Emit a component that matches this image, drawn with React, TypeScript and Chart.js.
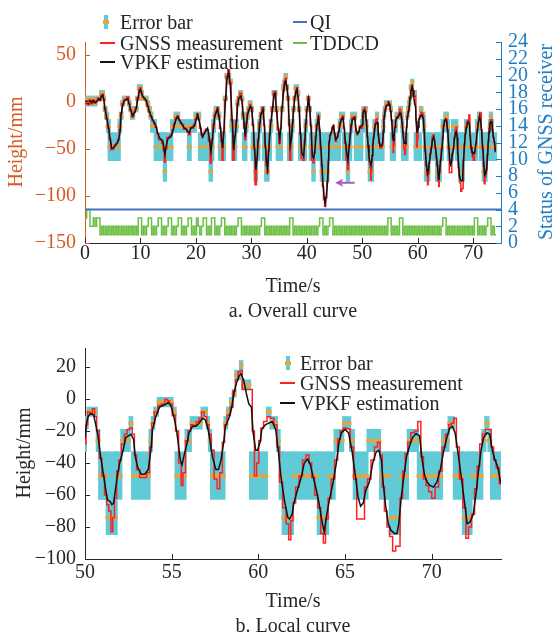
import React, { useEffect, useRef } from 'react';
import { Chart, registerables } from 'chart.js';

Chart.register(...registerables);

const FONT = "'Liberation Serif', 'Times New Roman', serif";
const DARK = '#262626';
const LEFT_AX = '#D75A25';
const RIGHT_AX = '#1F7DC2';
const CYAN = '#60CAD6';
const ORANGE = '#EAA33A';
const RED = '#FF2020';
const BLACK = '#111111';
const QI_BLUE = '#4472C4';
const GREEN = '#6CBF45';
const PURPLE = '#A35BB5';

// ---------------- data ----------------
const time = [
  0, 0.3, 0.6, 0.9, 1.2, 1.5, 1.8, 2.1, 2.4, 2.7,
  3.0, 3.2, 3.4, 3.6, 3.9, 4.2, 4.5, 4.8, 5.1, 5.4,
  5.7, 6.0, 6.3, 6.5, 6.8, 7.1, 7.4, 7.7, 8.0, 8.2,
  8.6, 8.9, 9.2, 9.5, 9.8, 10.0, 10.2, 10.4, 10.7, 11.0,
  11.3, 11.6, 11.9, 12.2, 12.5, 12.8, 13.1, 13.4, 13.7, 14.0,
  14.2, 14.4, 14.6, 14.9, 15.2, 15.5, 15.8, 16.1, 16.4, 16.7,
  17.0, 17.3, 17.6, 17.9, 18.2, 18.5, 18.8, 19.1, 19.4, 19.7,
  20.0, 20.3, 20.5, 20.8, 21.0, 21.2, 21.4, 21.6, 21.9, 22.1,
  22.4, 22.7, 22.9, 23.2, 23.4, 23.6, 23.9, 24.1, 24.4, 24.6,
  24.8, 25.0, 25.3, 25.6, 25.9, 26.2, 26.5, 26.8, 27.0, 27.3,
  27.5, 27.7, 28.1, 28.3, 28.5, 28.7, 28.9, 29.1, 29.3, 29.5,
  29.8, 30.0, 30.3, 30.5, 30.8, 31.0, 31.2, 31.5, 31.7, 32.1,
  32.3, 32.5, 32.7, 32.9, 33.1, 33.3, 33.5, 33.8, 34.1, 34.3,
  34.5, 34.8, 35.1, 35.3, 35.5, 35.8, 36.0, 36.2, 36.4, 36.6,
  36.8, 37.0, 37.2, 37.4, 37.6, 37.8, 38.0, 38.2, 38.4, 38.6,
  38.8, 39.1, 39.4, 39.6, 39.8, 40.0, 40.3, 40.5, 40.7, 41.0,
  41.2, 41.4, 41.6, 41.8, 42.1, 42.3, 42.5, 42.7, 42.9, 43.1,
  43.3, 43.5, 43.7, 43.9, 44.0, 44.2, 44.4, 44.6, 44.8, 45.0,
  45.2, 45.5, 45.7, 46.0, 46.2, 46.5, 46.7, 46.9, 47.2, 47.4,
  47.6, 47.8, 48.0, 48.2, 48.6, 48.9, 49.1, 49.3, 49.6, 49.8,
  50.0, 50.1, 50.2, 50.35, 50.5, 50.6, 50.75, 50.9, 51.05, 51.2,
  51.3, 51.45, 51.55, 51.65, 51.75, 51.9, 52.0, 52.2, 52.35, 52.5,
  52.65, 52.8, 52.9, 53.05, 53.25, 53.45, 53.65, 53.8, 53.9, 54.1,
  54.3, 54.5, 54.7, 54.8, 54.95, 55.15, 55.3, 55.5, 55.6, 55.7,
  55.9, 56.0, 56.2, 56.35, 56.5, 56.65, 56.8, 56.95, 57.1, 57.2,
  57.35, 57.55, 57.7, 57.85, 58.0, 58.1, 58.3, 58.45, 58.6, 58.75,
  58.9, 59.0, 59.15, 59.3, 59.45, 59.6, 59.7, 59.85, 59.95, 60.1,
  60.2, 60.4, 60.6, 60.8, 61.0, 61.15, 61.3, 61.5, 61.7, 61.8,
  61.95, 62.05, 62.25, 62.45, 62.65, 62.85, 63.0, 63.15, 63.35, 63.5,
  63.7, 63.8, 63.95, 64.1, 64.3, 64.5, 64.65, 64.8, 65.0, 65.2,
  65.4, 65.6, 65.75, 65.9, 66.05, 66.2, 66.4, 66.6, 66.8, 66.95,
  67.1, 67.2, 67.35, 67.5, 67.65, 67.85, 68.0, 68.1, 68.25, 68.4,
  68.55, 68.7, 68.9, 69.1, 69.3, 69.45, 69.6, 69.75, 69.9, 70.1,
  70.3, 70.5, 70.7, 70.9, 71.05, 71.2, 71.35, 71.5, 71.7, 71.9,
  72.05, 72.2, 72.4, 72.55, 72.7, 72.85, 73.0, 73.2, 73.35, 73.5,
  73.65, 73.8, 74.0,
];

const gnss = [
  -2, 1, -3, 2, -2, 2, -1, 1, 4, 1,
  7, 8, 3, -7, -18, -28, -40, -51, -50, -46,
  -44, -40, -30, -12, -2, 2, 3, 5, -2, -9,
  -16, -11, -6, 4, 13, 15, 10, 5, 3, 1,
  -5, -11, -16, -20, -23, -27, -34, -40, -41, -44,
  -52, -64, -50, -38, -37, -35, -30, -23, -17, -15,
  -20, -23, -24, -29, -28, -32, -35, -27, -28, -24,
  -18, -13, -19, -28, -35, -38, -34, -31, -29, -30,
  -42, -65, -40, -24, -14, -10, -6, -15, -28, -42,
  -62, -32, 2, 27, 34, 20, -20, -62, -36, -20,
  -2, 5, 9, 2, -14, -28, -40, -22, -12, -8,
  -3, -6, -25, -50, -88, -60, -40, -22, -12, -6,
  -25, -48, -68, -76, -52, -34, -20, -6, 10, 11,
  -10, -30, -44, -28, -6, 12, 22, 25, 17, 5,
  -25, -62, -38, -23, -8, 5, 12, 15, 6, -10,
  -34, -60, -62, -42, -23, -8, 5, -6, -25, -62,
  -65, -54, -37, -24, -15, -30, -50, -68, -90, -104,
  -111, -102, -85, -62, -42, -35, -32, -27, -25, -34,
  -42, -37, -32, -22, -18, -15, -28, -44, -62, -72,
  -46, -34, -24, -17, -16, -32, -35, -32, -26, -27,
  -28, -16, -8, -9, -6, -11, -20, -37, -48, -60,
  -66, -70, -83, -74, -62, -45, -38, -28, -22, -19,
  -18, -22, -35, -44, -49, -49, -46, -30, -15, -8,
  -4, -3, 0, -1, -3, -10, -20, -40, -54, -46,
  -26, -20, -16, -17, -14, -12, -8, -11, -16, -22,
  -32, -50, -56, -46, -27, -16, -10, -5, 5, 12,
  17, 18, 6, 6, 6, 6, -20, -48, -40, -26,
  -18, -14, -11, -12, -16, -30, -52, -68, -78, -88,
  -76, -65, -55, -48, -38, -35, -40, -49, -60, -68,
  -84, -90, -75, -62, -50, -38, -25, -20, -18, -18.5,
  -30, -50, -75, -75, -75, -55, -50, -38, -30, -27,
  -35, -55, -70, -80, -86, -95, -92, -92, -62, -45,
  -34, -27, -21, -20, -14, -36, -50, -54, -58, -62,
  -55, -45, -30, -22, -16, -15, -12, -30, -50, -68,
  -87, -80, -72, -56, -42, -28, -22, -19, -19, -30,
  -38, -43, -53,
];

const vpkf = [
  -1, 0, -2, 1, -1, 1, -1, 0, 3, 2,
  6, 7, 2, -8, -16, -26, -38, -49, -49, -47,
  -45, -42, -33, -14, -4, 1, 2, 3, -3, -8,
  -15, -12, -8, 2, 11, 13, 9, 6, 4, 2,
  -4, -10, -15, -19, -22, -26, -33, -38, -40, -41,
  -48, -56, -48, -40, -38, -37, -32, -25, -19, -16,
  -19, -22, -25, -28, -29, -31, -33, -28, -27, -26,
  -20, -14, -18, -26, -33, -37, -35, -33, -30, -28,
  -38, -53, -44, -26, -16, -12, -8, -14, -26, -38,
  -49, -35, -1, 24, 31, 17, -15, -51, -40, -22,
  -5, 3, 6, 0, -12, -25, -37, -25, -14, -10,
  -5, -6, -22, -44, -72, -62, -44, -25, -14, -8,
  -22, -44, -62, -71, -55, -37, -22, -8, 8, 9,
  -8, -26, -40, -30, -8, 10, 20, 22, 15, 6,
  -20, -47, -40, -26, -10, 3, 10, 13, 5, -8,
  -30, -55, -58, -45, -26, -10, 3, -5, -22, -58,
  -60, -55, -40, -26, -17, -28, -47, -65, -87, -100,
  -108, -100, -87, -65, -44, -36, -33, -28, -26, -33,
  -40, -38, -33, -24, -19, -17, -26, -40, -55, -62,
  -50, -37, -26, -19, -17, -30, -34, -33, -27, -26,
  -24, -14, -10.5, -9, -10, -15, -23, -36, -46, -57,
  -63, -64, -66, -65, -57, -46, -40, -32, -24, -23,
  -22, -25, -36, -43, -47, -47, -44, -32, -19, -10.5,
  -5, -4, -3, -2, -4, -12, -21, -38, -41, -36,
  -27, -21, -17, -17, -16, -14, -12, -13, -19, -25,
  -36, -44, -44, -38, -27, -17, -12, -6, 4, 10.5,
  14.7, 16, 12, 4, -3, -5, -21, -32, -32, -27,
  -19, -16, -15, -14, -19, -32, -48, -63, -74, -75,
  -72, -65, -57, -50, -40, -37.5, -41, -48, -57, -65,
  -78, -83, -72, -63, -53, -40, -27, -21, -19, -21,
  -32, -48, -61, -67, -65, -57, -52, -40, -33, -32,
  -38, -52, -67, -78, -82, -84, -84, -78, -61, -48,
  -36, -30, -24, -21.5, -23, -38, -48, -52, -54, -55,
  -52, -44, -32, -23, -18, -17, -21, -32, -48, -65,
  -78, -77, -72, -60, -45, -32, -24, -21, -22, -32,
  -38, -42, -53,
];

// error-bar level (index into the level table) at each sample of `time`
const errLevel = [
  5, 6, 5, 6, 5, 6, 5, 6, 6, 6,
  7, 7, 6, 4, 3, 2, 1, 1, 1, 1,
  1, 1, 2, 3, 5, 6, 6, 6, 5, 4,
  3, 4, 4, 6, 8, 8, 7, 6, 6, 6,
  5, 4, 3, 2, 2, 1, 1, 1, 1, 1,
  1, 0, 1, 1, 1, 1, 2, 2, 3, 3,
  2, 2, 2, 2, 2, 2, 1, 2, 2, 2,
  3, 3, 3, 1, 1, 1, 1, 1, 1, 1,
  1, 0, 1, 2, 3, 4, 4, 3, 1, 1,
  1, 1, 6, 10, 10, 9, 2, 1, 1, 2,
  5, 6, 7, 6, 3, 1, 1, 2, 3, 4,
  5, 4, 1, 1, 0, 1, 1, 2, 3, 4,
  1, 1, 0, 0, 1, 1, 2, 4, 7, 7,
  4, 1, 1, 1, 4, 8, 9, 10, 8, 6,
  1, 1, 1, 2, 4, 6, 8, 8, 7, 4,
  1, 1, 1, 1, 2, 4, 6, 4, 1, 1,
  0, 1, 1, 2, 3, 1, 1, 0, 0, 0,
  0, 0, 0, 1, 1, 1, 1, 1, 1, 1,
  1, 1, 1, 2, 3, 3, 1, 1, 1, 0,
  1, 1, 2, 3, 3, 1, 1, 1, 1, 1,
  2, 3, 4, 4, 4, 4, 2, 1, 1, 1,
  0, 0, 0, 0, 0, 1, 1, 2, 2, 2,
  3, 1, 1, 1, 1, 1, 1, 2, 3, 4,
  5, 5, 5, 5, 5, 4, 1, 1, 1, 1,
  2, 2, 3, 3, 3, 3, 4, 4, 3, 2,
  1, 1, 1, 1, 1, 3, 4, 5, 6, 8,
  8, 9, 7, 7, 7, 1, 1, 1, 1, 1,
  1, 1, 4, 3, 3, 2, 1, 0, 0, 0,
  0, 1, 1, 1, 1, 1, 1, 1, 1, 0,
  0, 0, 0, 1, 1, 2, 2, 2, 3, 3,
  2, 1, 1, 1, 1, 1, 2, 2, 2, 2,
  1, 1, 1, 1, 0, 0, 0, 0, 1, 1,
  1, 2, 2, 2, 1, 1, 1, 1, 1, 1,
  1, 1, 2, 2, 3, 3, 1, 1, 1, 0,
  0, 0, 1, 1, 1, 1, 2, 3, 2, 1,
  1, 1, 1,
];
const levelMid = [-74, -48, -26, -15, -8, -2, 3, 9, 15, 21, 27];
const levelLo = [-85, -63, -33, -19, -11, -5, 1, 6, 12, 18, 24];
const levelHi = [-33, -33, -19, -11, -5, 1, 6, 12, 18, 24, 30];

// TDDCD status, one value every 0.3 s from t = 0
const TDDCD_STEP = 0.3;
const tddcd = [
  3, 4, 4, 2, 2, 3, 2, 3, 3, 1,
  2, 1, 2, 1, 2, 1, 2, 1, 2, 1,
  2, 1, 2, 1, 2, 1, 2, 1, 2, 1,
  2, 1, 3, 3, 1, 2, 1, 2, 3, 3,
  1, 2, 1, 2, 3, 3, 1, 2, 1, 2,
  3, 3, 1, 2, 1, 2, 3, 3, 1, 2,
  1, 2, 3, 3, 1, 2, 1, 3, 2, 1,
  2, 3, 3, 1, 2, 1, 3, 3, 1, 2,
  1, 2, 3, 3, 1, 2, 1, 2, 1, 2,
  1, 2, 3, 3, 1, 2, 1, 2, 1, 2,
  1, 2, 1, 2, 1, 2, 3, 3, 1, 2,
  1, 2, 1, 2, 1, 2, 1, 2, 1, 2,
  1, 2, 1, 3, 3, 1, 2, 1, 2, 1,
  2, 1, 2, 1, 2, 1, 2, 1, 2, 1,
  2, 3, 3, 1, 2, 1, 2, 3, 3, 1,
  2, 1, 2, 1, 2, 1, 2, 1, 2, 1,
  2, 1, 2, 1, 2, 1, 2, 1, 2, 1,
  2, 1, 2, 1, 2, 1, 2, 1, 2, 1,
  2, 1, 3, 3, 1, 2, 1, 2, 1, 3,
  3, 1, 2, 1, 2, 1, 2, 1, 2, 1,
  2, 1, 2, 1, 2, 1, 2, 1, 2, 1,
  2, 1, 2, 1, 2, 3, 3, 1, 2, 1,
  2, 1, 2, 1, 2, 1, 2, 1, 2, 1,
  2, 1, 2, 1, 3, 3, 1, 2, 1, 2,
  1, 2, 3, 3, 1, 2, 1, 1,
];

const qiTime = [0, 75];
const qiValue = [4, 4];

const arrowStart = [48.6, -86];
const arrowEnd = [45.1, -86];

const topXTicks = [0, 10, 20, 30, 40, 50, 60, 70];
const topYTicks = [-150, -100, -50, 0, 50];
const statusTicks = [0, 2, 4, 6, 8, 10, 12, 14, 16, 18, 20, 22, 24];
const botXTicks = [50, 55, 60, 65, 70];
const botYTicks = [-100, -80, -60, -40, -20, 0, 20];

// ---------------- helpers ----------------
const fmt = (v: number) => (v < 0 ? '\u2212' + Math.abs(v) : String(v));

function buildRuns() {
  const runs: { t0: number; t1: number; lv: number }[] = [];
  let s = 0;
  for (let i = 1; i <= time.length; i++) {
    if (i === time.length || errLevel[i] !== errLevel[s]) {
      const t0 = s === 0 ? time[0] : (time[s - 1] + time[s]) / 2;
      const t1 = i === time.length ? time[i - 1] : (time[i - 1] + time[i]) / 2;
      runs.push({ t0, t1, lv: errLevel[s] });
      s = i;
    }
  }
  return runs;
}

// capPad: half width (in seconds) of the error-bar caps on each side of a run
function errorDatasets(capPad: number, midWidth: number) {
  const runs = buildRuns();
  const sets: any[] = [];
  levelMid.forEach((mid, lv) => {
    const merged: { t0: number; t1: number }[] = [];
    runs
      .filter((r) => r.lv === lv)
      .forEach((r) => {
        const a = r.t0 - capPad;
        const b = r.t1 + capPad;
        const last = merged[merged.length - 1];
        if (last && a <= last.t1) last.t1 = Math.max(last.t1, b);
        else merged.push({ t0: a, t1: b });
      });
    sets.push({
      label: 'err' + lv,
      data: merged.flatMap((r) => [
        { x: r.t0, y: levelHi[lv] },
        { x: r.t1, y: levelHi[lv] },
        { x: r.t1, y: null },
      ]),
      borderColor: CYAN,
      borderWidth: 1,
      backgroundColor: CYAN,
      fill: { target: { value: levelLo[lv] }, above: CYAN, below: CYAN },
      pointRadius: 0,
      yAxisID: 'y',
      order: 10,
      spanGaps: false,
    });
    sets.push({
      label: 'errMid' + lv,
      data: merged.flatMap((r) => [
        { x: r.t0, y: mid },
        { x: r.t1, y: mid },
        { x: r.t1, y: null },
      ]),
      borderColor: ORANGE,
      borderWidth: midWidth,
      fill: false,
      pointRadius: 0,
      yAxisID: 'y',
      order: 6,
      spanGaps: false,
    });
  });
  return sets;
}

function curveDatasets() {
  return [
    {
      label: 'GNSS measurement',
      data: time.map((t, i) => ({ x: t, y: gnss[i] })),
      borderColor: RED,
      borderWidth: 1.5,
      pointRadius: 0,
      fill: false,
      stepped: 'middle',
      yAxisID: 'y',
      order: 3,
    },
    {
      label: 'VPKF estimation',
      data: time.map((t, i) => ({ x: t, y: vpkf[i] })),
      borderColor: BLACK,
      borderWidth: 1.5,
      pointRadius: 0,
      fill: false,
      yAxisID: 'y',
      order: 2,
    },
  ];
}

const inwardTicks = {
  id: 'inwardTicks',
  afterDatasetsDraw(chart: any) {
    const ctx = chart.ctx;
    const a = chart.chartArea;
    ctx.save();
    ctx.lineWidth = 1;
    Object.values(chart.scales).forEach((s: any) => {
      ctx.strokeStyle = s.options.border.color;
      s.ticks.forEach((t: any) => {
        const p = Math.round(s.getPixelForValue(t.value)) + 0.5;
        ctx.beginPath();
        if (s.position === 'bottom') {
          ctx.moveTo(p, a.bottom);
          ctx.lineTo(p, a.bottom - 5);
        } else if (s.position === 'left') {
          ctx.moveTo(a.left, p);
          ctx.lineTo(a.left + 5, p);
        } else if (s.position === 'right') {
          ctx.moveTo(a.right, p);
          ctx.lineTo(a.right - 5, p);
        }
        ctx.stroke();
      });
    });
    ctx.restore();
  },
};

const arrowPlugin = {
  id: 'arrowMark',
  afterDatasetsDraw(chart: any) {
    const x = chart.scales.x;
    const y = chart.scales.y;
    const x0 = x.getPixelForValue(arrowStart[0]);
    const y0 = y.getPixelForValue(arrowStart[1]);
    const x1 = x.getPixelForValue(arrowEnd[0]);
    const y1 = y.getPixelForValue(arrowEnd[1]);
    const ctx = chart.ctx;
    ctx.save();
    ctx.strokeStyle = PURPLE;
    ctx.fillStyle = PURPLE;
    ctx.lineWidth = 2;
    ctx.beginPath();
    ctx.moveTo(x0, y0);
    ctx.lineTo(x1 + 6, y1);
    ctx.stroke();
    ctx.beginPath();
    ctx.moveTo(x1, y1);
    ctx.lineTo(x1 + 8, y1 - 4);
    ctx.lineTo(x1 + 6, y1);
    ctx.lineTo(x1 + 8, y1 + 4);
    ctx.closePath();
    ctx.fill();
    ctx.restore();
  },
};

const tickFont = { family: FONT, size: 20 };

function setTicks(list: number[]) {
  return (s: any) => {
    s.ticks = list.map((v) => ({ value: v }));
  };
}

function topConfig(): any {
  return {
    type: 'line',
    data: {
      datasets: [
        ...errorDatasets(0.32, 3),
        ...curveDatasets(),
        {
          label: 'QI',
          data: qiTime.map((t, i) => ({ x: t, y: qiValue[i] })),
          borderColor: QI_BLUE,
          borderWidth: 2,
          pointRadius: 0,
          fill: false,
          yAxisID: 'y1',
          order: 4,
        },
        {
          label: 'TDDCD',
          data: tddcd.map((v, i) => ({ x: +(i * TDDCD_STEP).toFixed(2), y: v })),
          borderColor: GREEN,
          borderWidth: 1.5,
          pointRadius: 0,
          fill: false,
          stepped: true,
          yAxisID: 'y1',
          order: 4,
        },
      ],
    },
    options: {
      responsive: false,
      animation: false,
      devicePixelRatio: 1,
      events: [],
      layout: { padding: { top: 42, left: 0, right: 0, bottom: 0 } },
      plugins: { legend: { display: false }, tooltip: { enabled: false } },
      scales: {
        x: {
          type: 'linear',
          min: 0,
          max: 75,
          afterBuildTicks: setTicks(topXTicks),
          afterFit: (s: any) => {
            s.height = 77;
          },
          ticks: { font: tickFont, color: DARK, padding: -1, maxRotation: 0, autoSkip: false, callback: fmt },
          grid: { display: false, drawTicks: false },
          border: { display: true, color: DARK, width: 1 },
        },
        y: {
          type: 'linear',
          position: 'left',
          min: -150,
          max: 63.5,
          afterBuildTicks: setTicks(topYTicks),
          afterFit: (s: any) => {
            s.width = 85;
          },
          ticks: { font: tickFont, color: LEFT_AX, padding: 9, autoSkip: false, callback: fmt },
          grid: { display: false, drawTicks: false },
          border: { display: true, color: LEFT_AX, width: 1 },
        },
        y1: {
          type: 'linear',
          position: 'right',
          min: 0,
          max: 24,
          afterBuildTicks: setTicks(statusTicks),
          afterFit: (s: any) => {
            s.width = 52;
          },
          ticks: { font: tickFont, color: RIGHT_AX, padding: 7, autoSkip: false, callback: fmt },
          grid: { display: false, drawTicks: false },
          border: { display: true, color: RIGHT_AX, width: 1 },
        },
      },
    },
    plugins: [inwardTicks, arrowPlugin],
  };
}

function bottomConfig(): any {
  return {
    type: 'line',
    data: { datasets: [...errorDatasets(0.07, 3.5), ...curveDatasets()] },
    options: {
      responsive: false,
      animation: false,
      devicePixelRatio: 1,
      events: [],
      layout: { padding: { top: 28, left: 0, right: 52, bottom: 0 } },
      plugins: { legend: { display: false }, tooltip: { enabled: false } },
      scales: {
        x: {
          type: 'linear',
          min: 50,
          max: 74,
          afterBuildTicks: setTicks(botXTicks),
          afterFit: (s: any) => {
            s.height = 76;
          },
          ticks: { font: tickFont, color: DARK, padding: 2, maxRotation: 0, autoSkip: false, callback: fmt },
          grid: { display: false, drawTicks: false },
          border: { display: true, color: DARK, width: 1 },
        },
        y: {
          type: 'linear',
          position: 'left',
          min: -100,
          max: 32,
          afterBuildTicks: setTicks(botYTicks),
          afterFit: (s: any) => {
            s.width = 85;
          },
          ticks: { font: tickFont, color: DARK, padding: 9, autoSkip: false, callback: fmt },
          grid: { display: false, drawTicks: false },
          border: { display: true, color: DARK, width: 1 },
        },
      },
    },
    plugins: [inwardTicks],
  };
}

// ---------------- html text / legend ----------------
function Txt(props: { x: number; y: number; text: string; color?: string; rot?: boolean; left?: boolean }) {
  const { x, y, text, color = DARK, rot = false, left = false } = props;
  return (
    <div
      style={{
        position: 'absolute',
        left: x,
        top: y,
        transform: `translate(${left ? '0' : '-50%'}, -50%)${rot ? ' rotate(-90deg)' : ''}`,
        whiteSpace: 'nowrap',
        fontFamily: FONT,
        fontSize: 20,
        lineHeight: '20px',
        color,
      }}
    >
      {text}
    </div>
  );
}

function LineKey(props: { x0: number; x1: number; y: number; color: string }) {
  const { x0, x1, y, color } = props;
  return (
    <div style={{ position: 'absolute', left: x0, top: y - 1, width: x1 - x0, height: 2, background: color }} />
  );
}

function ErrKey(props: { x: number; y: number }) {
  const { x, y } = props;
  return (
    <>
      <div style={{ position: 'absolute', left: x - 2, top: y - 7, width: 4, height: 14, background: CYAN }} />
      <div style={{ position: 'absolute', left: x - 3, top: y - 2, width: 6, height: 4, background: ORANGE }} />
    </>
  );
}

export default function App() {
  const topRef = useRef<HTMLCanvasElement>(null);
  const botRef = useRef<HTMLCanvasElement>(null);

  useEffect(() => {
    const c1 = new Chart(topRef.current as HTMLCanvasElement, topConfig());
    const c2 = new Chart(botRef.current as HTMLCanvasElement, bottomConfig());
    return () => {
      c1.destroy();
      c2.destroy();
    };
  }, []);

  return (
    <div style={{ position: 'absolute', left: 0, top: 0, width: 553, height: 635, background: '#fff', overflow: 'hidden' }}>
      <canvas
        ref={topRef}
        width={553}
        height={320}
        style={{ position: 'absolute', left: 0, top: 0, width: 553, height: 320, display: 'block' }}
      />
      <canvas
        ref={botRef}
        width={553}
        height={315}
        style={{ position: 'absolute', left: 0, top: 320, width: 553, height: 315, display: 'block' }}
      />

      {/* top chart legend */}
      <ErrKey x={106} y={22} />
      <Txt x={120} y={22} text="Error bar" left />
      <LineKey x0={100} x1={115} y={43} color={RED} />
      <Txt x={120} y={43} text="GNSS measurement" left />
      <LineKey x0={100} x1={115} y={62} color={BLACK} />
      <Txt x={120} y={62} text="VPKF estimation" left />
      <LineKey x0={293} x1={307} y={22} color={QI_BLUE} />
      <Txt x={310} y={22} text="QI" left />
      <LineKey x0={293} x1={307} y={43} color={GREEN} />
      <Txt x={310} y={43} text="TDDCD" left />

      {/* top chart titles */}
      <Txt x={15} y={142} text="Height/mm" color={LEFT_AX} rot />
      <Txt x={545} y={142} text="Status of GNSS receiver" color={RIGHT_AX} rot />
      <Txt x={293} y={285} text="Time/s" />
      <Txt x={293} y={310} text="a. Overall curve" />

      {/* bottom chart legend */}
      <ErrKey x={288} y={363} />
      <Txt x={300} y={363} text="Error bar" left />
      <LineKey x0={280} x1={295} y={383} color={RED} />
      <Txt x={300} y={383} text="GNSS measurement" left />
      <LineKey x0={280} x1={295} y={403} color={BLACK} />
      <Txt x={300} y={403} text="VPKF estimation" left />

      {/* bottom chart titles */}
      <Txt x={23} y={453} text="Height/mm" rot />
      <Txt x={293} y={600} text="Time/s" />
      <Txt x={293} y={625} text="b. Local curve" />
    </div>
  );
}
